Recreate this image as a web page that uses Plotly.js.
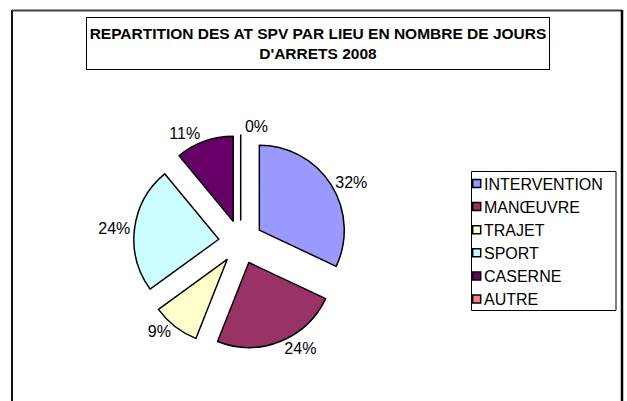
<!DOCTYPE html>
<html>
<head>
<meta charset="utf-8">
<script src="https://cdn.plot.ly/plotly-3.0.1.min.js"></script>
<style>html,body{margin:0;padding:0;background:#fff;}#chart{width:627px;height:401px;}</style>
</head>
<body>
<div id="chart"></div>
<script>
const categories = ["INTERVENTION", "MANŒUVRE", "TRAJET", "SPORT", "CASERNE", "AUTRE"];
const values = [32, 24, 9, 24, 11, 0];
const colors = ["#9999FF", "#993366", "#FFFFCC", "#CCFFFF", "#660066", "#FF8080"];
const titleText = "REPARTITION DES AT SPV PAR LIEU EN NOMBRE DE JOURS<br>D'ARRETS 2008";

const W = 627, H = 401;
const px = x => x / W;
const py = y => 1 - y / H;
const FONT = "Liberation Sans, Arial, sans-serif";

const trace = {
  type: "pie",
  labels: categories,
  values: values,
  sort: false,
  direction: "clockwise",
  rotation: 0,
  pull: values.map(() => 0.26),
  marker: {colors: colors, line: {color: "#000000", width: 1.5}},
  textinfo: "percent",
  textposition: "outside",
  texttemplate: "%{percent:.0%}",
  outsidetextfont: {family: FONT, size: 16, color: "#000"},
  hoverinfo: "label+percent",
  showlegend: false,
  automargin: false,
  domain: {x: [px(240.7 - 107), px(240.7 + 107)], y: [py(242 + 107), py(242 - 107)]}
};

// custom compact legend (built from the category/colour arrays)
const legBox = {x0: 471.5, y0: 171.5, x1: 616, y1: 310.5};
const legItem = {sx: 476.7, sy: 183.5, step: 23.1, size: 8, tx: 482};
const shapes = [
  {type: "line", xref: "paper", yref: "paper", x0: px(12), x1: px(12), y0: py(10), y1: 0, line: {color: "#111", width: 2}},
  {type: "line", xref: "paper", yref: "paper", x0: px(12), x1: px(622), y0: py(10.5), y1: py(10.5), line: {color: "#404040", width: 2}},
  {type: "line", xref: "paper", yref: "paper", x0: px(622), x1: px(622), y0: py(10), y1: 0, line: {color: "#000", width: 2.5}},
  {type: "rect", xref: "paper", yref: "paper", x0: px(legBox.x0), x1: px(legBox.x1), y0: py(legBox.y1), y1: py(legBox.y0),
   line: {color: "#000", width: 1}, fillcolor: "#fff"}
];
const annotations = [{
  text: "<b>" + titleText + "</b>",
  xref: "paper", yref: "paper",
  x: px(317.5), y: py(43.5), xanchor: "center", yanchor: "middle",
  showarrow: false,
  font: {family: FONT, size: 15.5, color: "#000"},
  bordercolor: "#000", borderwidth: 1, borderpad: 1.5,
  width: 459, height: 48, align: "center", bgcolor: "#fff"
}];
categories.forEach((c, i) => {
  const cy = legItem.sy + i * legItem.step;
  const h = legItem.size / 2;
  shapes.push({type: "rect", xref: "paper", yref: "paper",
    x0: px(legItem.sx - h), x1: px(legItem.sx + h), y0: py(cy + h), y1: py(cy - h),
    line: {color: "#000", width: 1.5}, fillcolor: colors[i]});
  annotations.push({text: c, xref: "paper", yref: "paper", x: px(legItem.tx), y: py(cy + 0.5),
    xanchor: "left", yanchor: "middle", showarrow: false,
    font: {family: FONT, size: 16, color: "#000"}});
});

const layout = {
  width: W, height: H,
  margin: {l: 0, r: 0, t: 0, b: 0},
  paper_bgcolor: "#ffffff",
  font: {family: FONT, size: 15, color: "#000"},
  showlegend: false,
  annotations: annotations,
  shapes: shapes
};

Plotly.newPlot("chart", [trace], layout, {displayModeBar: false, staticPlot: true});
</script>
</body>
</html>
